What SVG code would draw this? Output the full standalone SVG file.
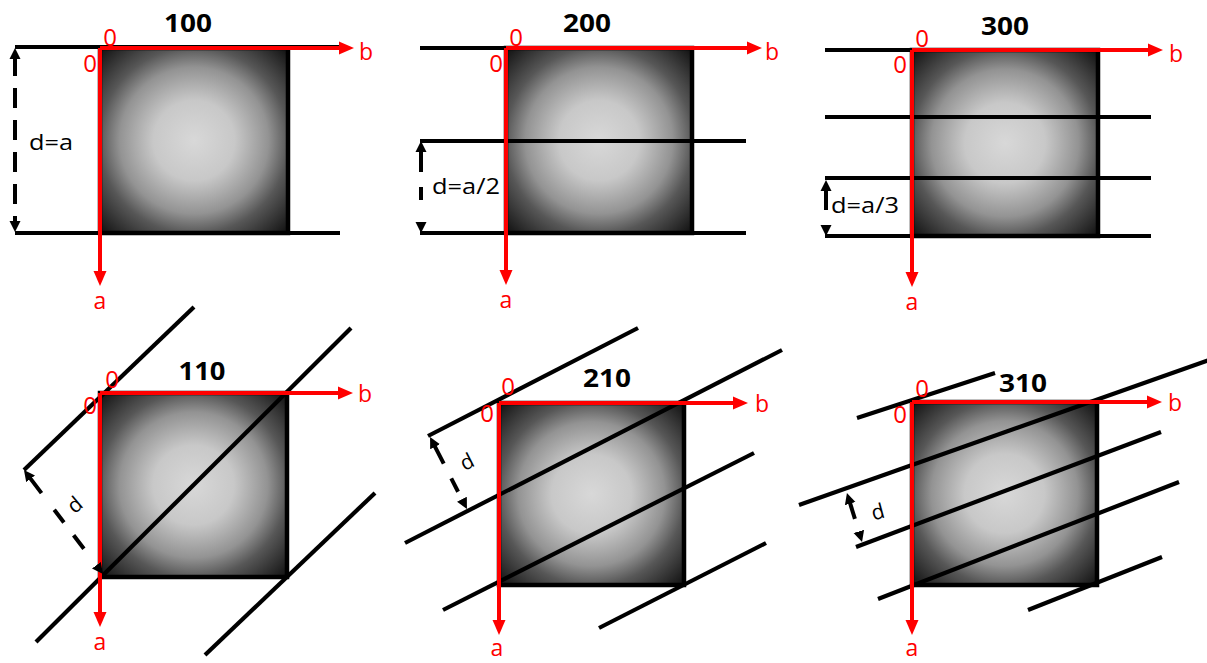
<svg xmlns="http://www.w3.org/2000/svg" width="1207" height="663" viewBox="0 0 1207 663">
<style>
.sq{fill:url(#g);stroke:#000;stroke-width:4.5}
.ln{stroke:#000;stroke-width:4.2;fill:none}
.ax{stroke:#f00;stroke-width:4;fill:none;marker-end:url(#ra)}
.dm{stroke:#000;stroke-width:4;fill:none;marker-start:url(#ba);marker-end:url(#ba)}
.t{font-family:"Open Sans","DejaVu Sans",sans-serif;font-weight:bold;font-size:25px;fill:#000;text-anchor:middle}
.r{font-family:"Open Sans","DejaVu Sans",sans-serif;font-size:24px;fill:#f00;text-anchor:middle}
.rl{font-family:"Open Sans","DejaVu Sans",sans-serif;font-size:23px;fill:#f00}
.d{font-family:"Open Sans","DejaVu Sans",sans-serif;font-size:21px;fill:#000}
</style>
<defs>
<radialGradient id="g" cx="0.5" cy="0.5" r="0.72">
<stop offset="0" stop-color="#d8d8d8"/>
<stop offset="0.3" stop-color="#c8c8c8"/>
<stop offset="0.55" stop-color="#939393"/>
<stop offset="0.7" stop-color="#575757"/>
<stop offset="1" stop-color="#0a0a0a"/>
</radialGradient>
<marker id="ra" viewBox="0 0 16 16" refX="5" refY="8" markerWidth="16" markerHeight="16" markerUnits="userSpaceOnUse" orient="auto">
<path d="M0,1.5 L15,8 L0,14.5 z" fill="#f00"/>
</marker>
<marker id="ba" viewBox="0 0 12 12" refX="3" refY="6" markerWidth="12" markerHeight="12" markerUnits="userSpaceOnUse" orient="auto-start-reverse">
<path d="M0,0.5 L11,6 L0,11.5 z" fill="#000"/>
</marker>
</defs>
<rect width="1207" height="663" fill="#fff"/>

<g id="p100">
<rect class="sq" x="100" y="48" width="188" height="185"/>
<line class="ln" x1="15" y1="47" x2="340" y2="47"/>
<line class="ln" x1="15" y1="233" x2="340" y2="233"/>
<line class="ax" x1="100" y1="48" x2="344" y2="48"/>
<line class="ax" x1="100" y1="48" x2="100" y2="276"/>
<text class="t" x="188" y="32" textLength="48" lengthAdjust="spacingAndGlyphs">100</text>
<text class="r" x="110" y="46">0</text>
<text class="r" x="90" y="72">0</text>
<text class="rl" x="359" y="60">b</text>
<text class="rl" x="100" y="309" text-anchor="middle">a</text>
</g>

<g id="p200">
<rect class="sq" x="506" y="48" width="186" height="185"/>
<line class="ln" x1="420" y1="48" x2="745" y2="48"/>
<line class="ln" x1="420" y1="141" x2="746" y2="141"/>
<line class="ln" x1="420" y1="233" x2="746" y2="233"/>
<line class="ax" x1="506" y1="48" x2="752" y2="48"/>
<line class="ax" x1="506" y1="48" x2="506" y2="275"/>
<text class="t" x="587" y="32" textLength="48" lengthAdjust="spacingAndGlyphs">200</text>
<text class="r" x="516" y="46">0</text>
<text class="r" x="496" y="72">0</text>
<text class="rl" x="765" y="60">b</text>
<text class="rl" x="506" y="308" text-anchor="middle">a</text>
</g>

<g id="p300">
<rect class="sq" x="912" y="50" width="186" height="186"/>
<line class="ln" x1="825" y1="50" x2="1151" y2="50"/>
<line class="ln" x1="825" y1="117" x2="1151" y2="117"/>
<line class="ln" x1="825" y1="178" x2="1151" y2="178"/>
<line class="ln" x1="825" y1="236" x2="1151" y2="236"/>
<line class="ax" x1="912" y1="50" x2="1153" y2="50"/>
<line class="ax" x1="912" y1="50" x2="912" y2="277"/>
<text class="t" x="1005" y="35" textLength="48" lengthAdjust="spacingAndGlyphs">300</text>
<text class="r" x="922" y="47">0</text>
<text class="r" x="900" y="73">0</text>
<text class="rl" x="1169" y="62">b</text>
<text class="rl" x="912" y="310" text-anchor="middle">a</text>
</g>

<g id="p110">
<rect class="sq" x="100" y="393" width="187" height="184"/>
<line class="ln" x1="24" y1="470" x2="194" y2="307"/>
<line class="ln" x1="36" y1="642" x2="351" y2="328"/>
<line class="ln" x1="205" y1="655" x2="375" y2="493"/>
<line class="ax" x1="100" y1="393" x2="343" y2="393"/>
<line class="ax" x1="100" y1="393" x2="100" y2="617"/>
<text class="t" x="202" y="380" textLength="47" lengthAdjust="spacingAndGlyphs">110</text>
<text class="r" x="112" y="388">0</text>
<text class="r" x="90" y="414">0</text>
<text class="rl" x="358" y="402">b</text>
<text class="rl" x="100" y="650" text-anchor="middle">a</text>
</g>

<g id="p210">
<rect class="sq" x="499" y="403" width="185" height="182"/>
<line class="ln" x1="428" y1="436" x2="638" y2="328"/>
<line class="ln" x1="405" y1="543" x2="782" y2="350"/>
<line class="ln" x1="443" y1="610" x2="754" y2="453"/>
<line class="ln" x1="599" y1="628" x2="766" y2="543"/>
<line class="ax" x1="499" y1="403" x2="738" y2="403"/>
<line class="ax" x1="499" y1="403" x2="499" y2="625"/>
<text class="t" x="607" y="387" textLength="48" lengthAdjust="spacingAndGlyphs">210</text>
<text class="r" x="508" y="395">0</text>
<text class="r" x="487" y="422">0</text>
<text class="rl" x="755" y="412">b</text>
<text class="rl" x="497" y="656" text-anchor="middle">a</text>
</g>

<g id="p310">
<rect class="sq" x="912" y="402" width="185" height="183"/>
<line class="ln" x1="857" y1="418" x2="995" y2="373"/>
<line class="ln" x1="799" y1="505" x2="1209" y2="360"/>
<line class="ln" x1="856" y1="547" x2="1161" y2="432"/>
<line class="ln" x1="878" y1="599" x2="1179" y2="482"/>
<line class="ln" x1="1028" y1="610" x2="1162" y2="557"/>
<line class="ax" x1="912" y1="402" x2="1152" y2="402"/>
<line class="ax" x1="912" y1="402" x2="912" y2="625"/>
<text class="t" x="1023" y="392" textLength="48" lengthAdjust="spacingAndGlyphs">310</text>
<text class="r" x="922" y="397">0</text>
<text class="r" x="900" y="423">0</text>
<text class="rl" x="1168" y="411">b</text>
<text class="rl" x="912" y="656" text-anchor="middle">a</text>
</g>

<g id="connectors">
<line class="dm" x1="15" y1="56" x2="15" y2="224" stroke-dasharray="20 12"/>
<line class="dm" x1="421" y1="149" x2="421" y2="225" stroke-dasharray="23 15 13 40"/>
<line class="dm" x1="826" y1="188" x2="826" y2="228" stroke-dasharray="22 40"/>
<line class="dm" x1="28.8" y1="476.4" x2="98.2" y2="567.6" stroke-dasharray="21 21 16 16 17 40"/>
<line class="dm" x1="433.7" y1="444.1" x2="463.3" y2="501.9" stroke-dasharray="22 16.5 15 40"/>
<line class="dm" x1="849.3" y1="500.7" x2="859.7" y2="534.3" stroke-dasharray="19 40"/>
<text class="d" x="29" y="150" textLength="44" lengthAdjust="spacingAndGlyphs">d=a</text>
<text class="d" x="432" y="194" textLength="68" lengthAdjust="spacingAndGlyphs">d=a/2</text>
<text class="d" x="831" y="213" textLength="68" lengthAdjust="spacingAndGlyphs">d=a/3</text>
<text class="d" transform="translate(75,505) rotate(-40)" x="0" y="7" text-anchor="middle">d</text>
<text class="d" transform="translate(467,462) rotate(-27)" x="0" y="7" text-anchor="middle">d</text>
<text class="d" transform="translate(878,512) rotate(-15)" x="0" y="7" text-anchor="middle">d</text>
</g>
</svg>
